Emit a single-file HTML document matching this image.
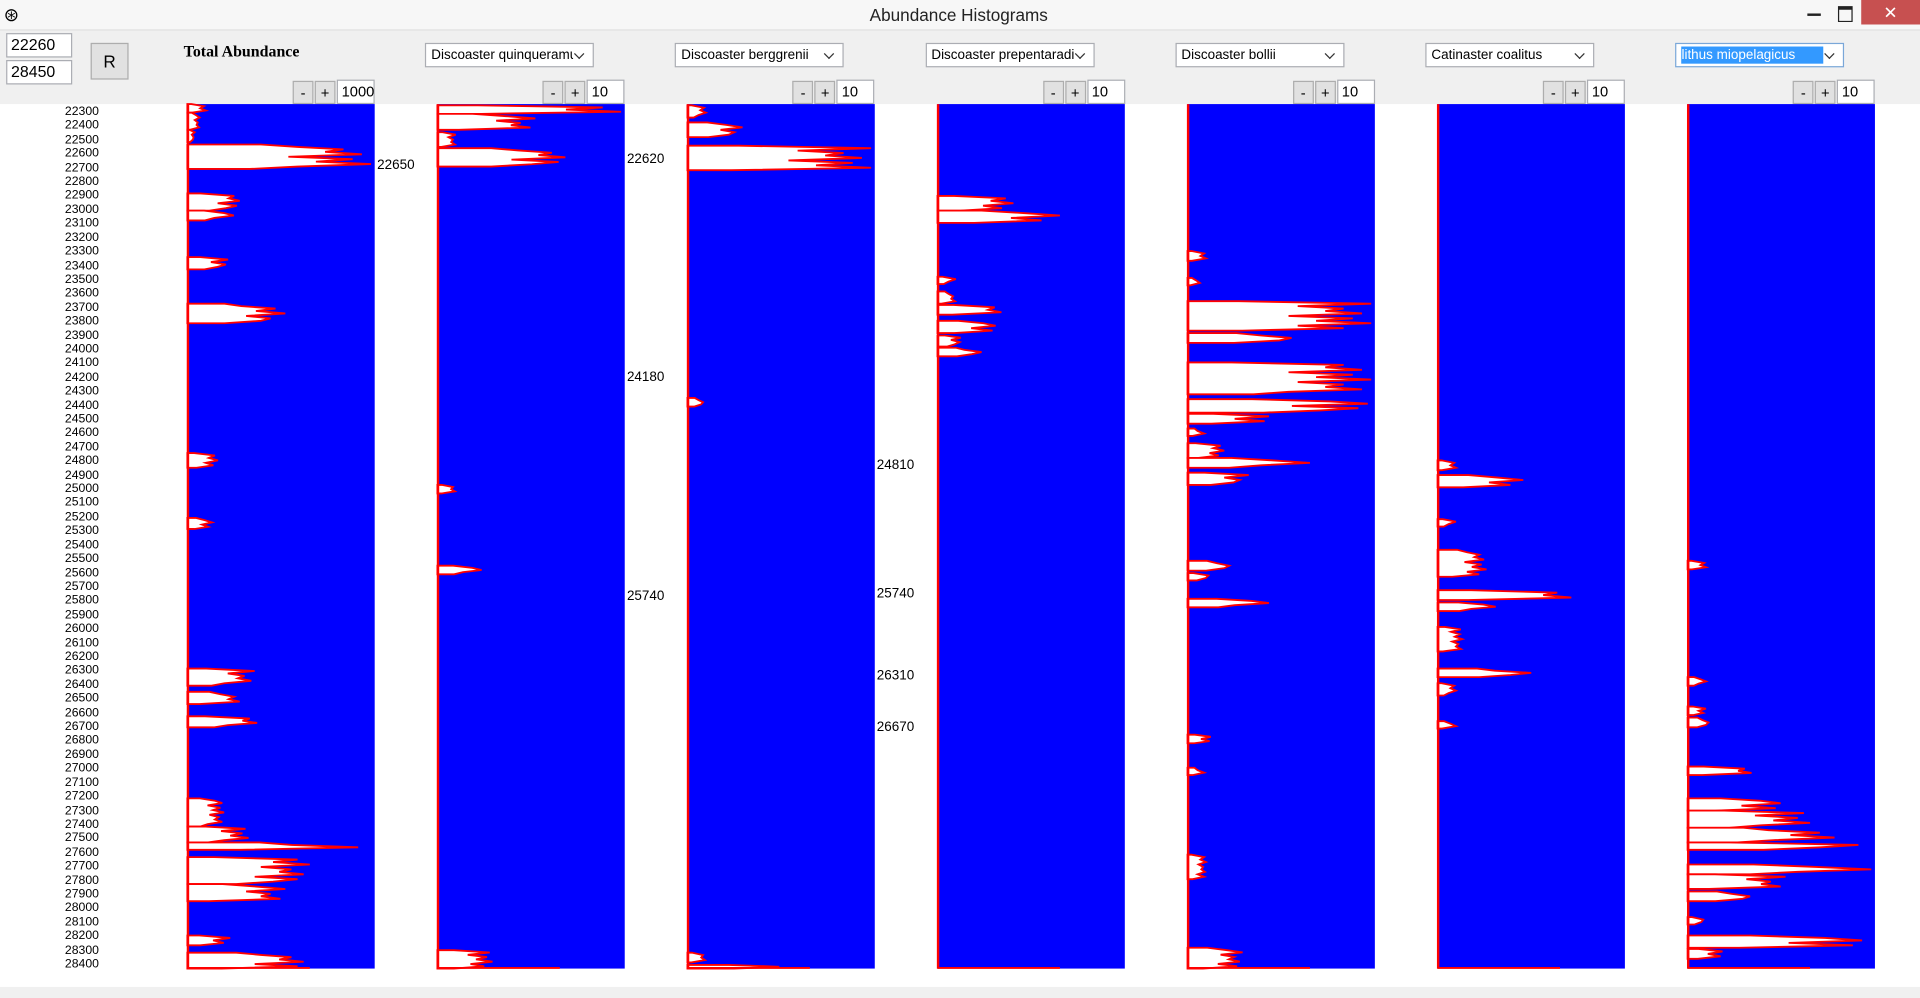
<!DOCTYPE html>
<html><head><meta charset="utf-8"><style>
html,body{margin:0;padding:0;width:1920px;height:998px;overflow:hidden;background:#fff;font-family:"Liberation Sans",Arial,sans-serif}
#w{position:absolute;left:0;top:0;width:1568px;height:815px;transform:scale(1.22449);transform-origin:0 0;background:#fff}
.abs{position:absolute}
.tb{background:#fff;border:1px solid #abadb3;font-size:13px;box-sizing:border-box;padding:1px 3px;line-height:16px}
.btn{background:#e1e1e1;border:1px solid #adadad;box-sizing:border-box;text-align:center;font-size:12px}
.dd{background:#fff;border:1px solid #abadb3;box-sizing:border-box;font-size:11px;padding:2px 4px;line-height:14px;white-space:nowrap;overflow:hidden}
.dd span{display:inline-block;max-width:116px;overflow:hidden;vertical-align:top}
.dd:after{content:"";position:absolute;right:8px;top:5px;width:5px;height:5px;border-right:1.5px solid #333;border-bottom:1.5px solid #333;transform:rotate(45deg);background:#fff}
.lbl{position:absolute;font-size:10px;line-height:10px}
</style></head><body><div id="w">
<div class="abs" style="left:0;top:0;width:1568px;height:24px;background:#f7f7f7;border-bottom:1px solid #ddd"></div>
<div class="abs" style="left:3px;top:3px;font-size:15px">⊛</div>
<div class="abs" style="left:0;top:4px;width:1566px;text-align:center;font-size:14px;color:#222">Abundance Histograms</div>
<div class="abs" style="left:1476px;top:11px;width:11px;height:2px;background:#222"></div>
<div class="abs" style="left:1501px;top:5px;width:10px;height:9px;border:1.5px solid #222;border-top-width:3px"></div>
<div class="abs" style="left:1520px;top:0;width:48px;height:20px;background:#c75050;color:#fff;text-align:center;font-size:14px;line-height:20px">✕</div>
<div class="abs" style="left:0;top:25px;width:1568px;height:60px;background:#f0f0f0"></div>
<div class="abs tb" style="left:5px;top:27px;width:54px;height:20px">22260</div>
<div class="abs tb" style="left:5px;top:49px;width:54px;height:20px">28450</div>
<div class="abs btn" style="left:74px;top:35px;width:31px;height:30px;line-height:28px;font-size:14px">R</div>
<div class="abs" style="left:150px;top:34px;font-family:'Liberation Serif',serif;font-weight:bold;font-size:13px">Total Abundance</div>
<div id="ctl"></div>
<svg id="sv" class="abs" style="left:0;top:0" width="1568" height="815"></svg>
<div id="lab"></div>
</div>
<script>
var ctl='',lab='';
var names=['Discoaster quinqueramu','Discoaster berggrenii','Discoaster prepentaradi','Discoaster bollii','Catinaster coalitus','lithus miopelagicus'];
for(var i=0;i<7;i++){var x=153+i*204.2;
 if(i>0){var sel=i==6;ctl+='<div class="abs dd" style="left:'+(x-10)+'px;top:35px;width:138px;height:20px;'+(sel?'border-color:#7aa7d8':'')+'"><span style="'+(sel?'background:#3399ff;color:#fff;width:116px':'')+'">'+names[i-1]+'</span></div>';}
 var v=i==0?'1000':'10';
 ctl+='<div class="abs btn" style="left:'+(x+86)+'px;top:66px;width:17px;height:19px;line-height:18px">-</div><div class="abs btn" style="left:'+(x+104)+'px;top:66px;width:17px;height:19px;line-height:18px">+</div><div class="abs tb" style="left:'+(x+122)+'px;top:65px;width:31px;height:20px;font-size:12px">'+v+'</div>';}
for(var d=22300;d<=28400;d+=100){var y=92+(d-22300)*0.1141;lab+='<div class="lbl" style="left:53px;top:'+(y-5)+'px">'+d+'</div>';}
var tl=[[308,130,'22650'],[512,125,'22620'],[512,303,'24180'],[512,482,'25740'],[716,375,'24810'],[716,480,'25740'],[716,547,'26310'],[716,589,'26670']];
tl.forEach(function(t){lab+='<div class="lbl" style="font-size:11px;left:'+t[0]+'px;top:'+t[1]+'px">'+t[2]+'</div>';});
document.getElementById('ctl').innerHTML=ctl;document.getElementById('lab').innerHTML=lab;
var D=[
[[85,92,15],[92,106,10],[106,116,6],[118,138,150],[158,172,45],[172,180,40],[210,220,35],[248,264,80],[370,382,25],[423,432,20],[546,560,55],[565,575,45],[585,594,60],[652,675,30],[675,688,50],[688,694,155],[700,722,100],[722,736,80],[764,772,35],[778,791,100]],
[[86,93,150],[93,106,80],[108,120,15],[121,136,110],[396,403,15],[462,469,38],[776,791,45]],
[[86,96,15],[100,112,45],[119,139,150],[325,332,15],[778,786,15],[788,791,100]],
[[160,172,62],[172,182,100],[226,232,15],[238,248,15],[249,257,55],[262,272,50],[274,283,20],[284,291,40]],
[[205,213,15],[227,233,10],[246,270,150],[272,280,100],[296,322,150],[326,337,155],[338,346,70],[350,356,15],[362,374,30],[374,382,100],[386,396,50],[458,466,40],[468,474,20],[489,496,70],[600,607,20],[627,633,15],[698,718,15],[774,791,45]],
[[376,384,15],[388,398,70],[424,430,15],[449,471,40],[482,490,115],[492,499,50],[512,532,20],[546,553,85],[558,568,15],[589,595,15]],
[[458,465,15],[553,560,15],[577,584,15],[586,594,20],[626,633,55],[652,662,80],[662,676,100],[676,688,120],[688,694,155],[706,714,150],[714,726,80],[728,736,60],[749,755,15],[764,774,150],[775,783,30]]];
var s='';
for(var i=0;i<7;i++){var x=153+i*204.2;
 s+='<rect x="'+x+'" y="85" width="153" height="706" fill="#0000ff"/>';
 D[i].forEach(function(b,k){var y1=b[0],y2=b[1],w=b[2],h=y2-y1,p='M'+x+','+y1;
  var n=Math.max(2,Math.round(h/2));
  for(var j=0;j<=n;j++){var f=[0.55,0.9,0.7,1,0.6,0.85,0.75,0.95][(j+k)%8];if(j==0||j==n)f*=0.4;p+=' L'+(x+w*f)+','+(y1+h*j/n);}
  p+=' L'+x+','+y2+'Z';s+='<path d="'+p+'" fill="#fff" stroke="#ff0000" stroke-width="1.5"/>';});
 s+='<line x1="'+(x+0.5)+'" y1="85" x2="'+(x+0.5)+'" y2="791" stroke="#ff0000" stroke-width="2"/>';
 s+='<line x1="'+x+'" y1="790.5" x2="'+(x+100)+'" y2="790.5" stroke="#ff0000" stroke-width="1.5"/>';}
s+='<rect x="0" y="806" width="1568" height="9" fill="#f0f0f0"/>';
document.getElementById('sv').innerHTML=s;
</script>
</body></html>
